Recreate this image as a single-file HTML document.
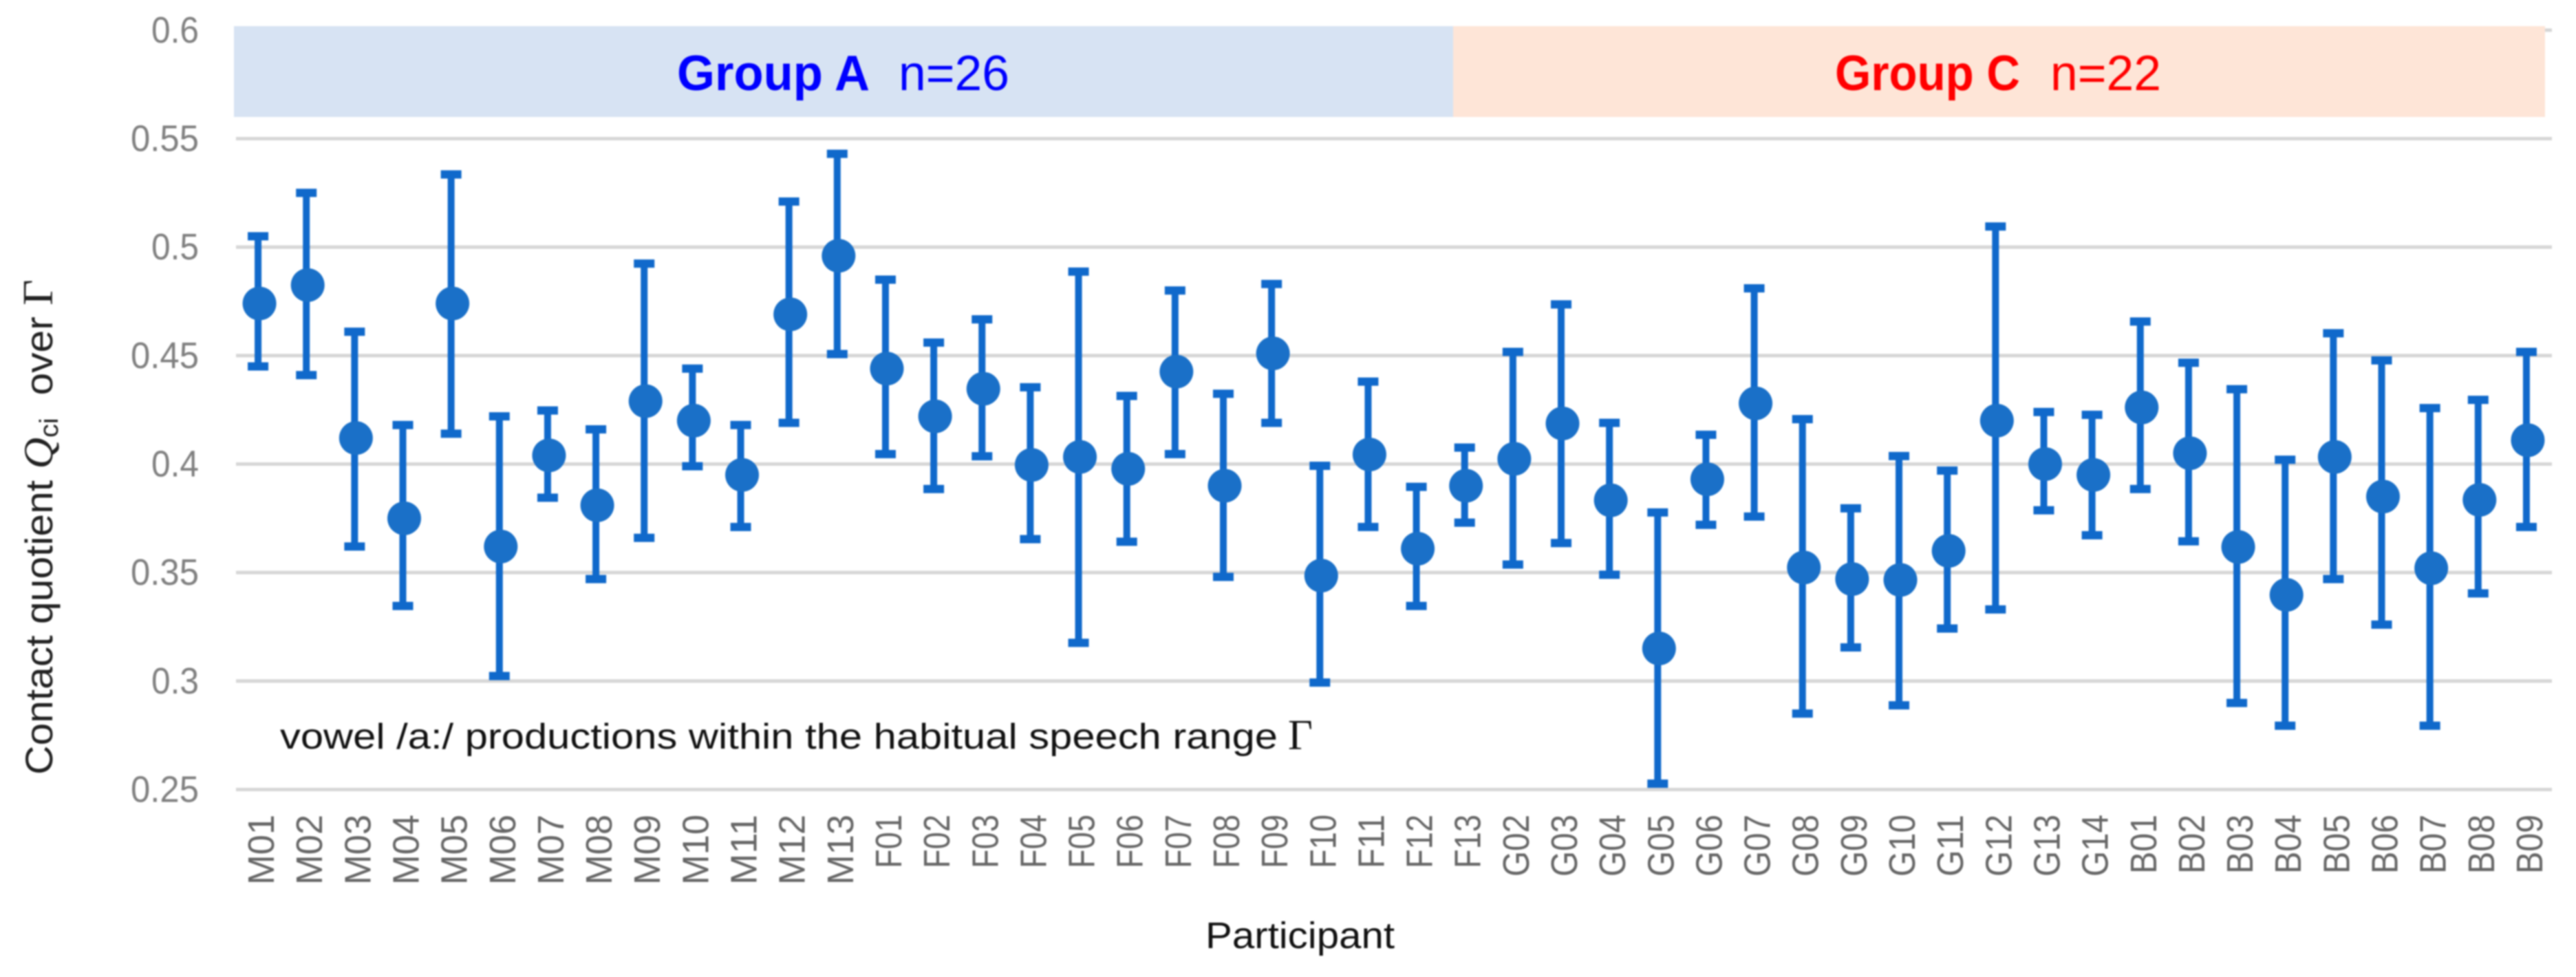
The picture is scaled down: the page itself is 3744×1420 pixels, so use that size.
<!DOCTYPE html>
<html lang="en">
<head>
<meta charset="utf-8">
<title>Contact quotient by participant</title>
<style>
html,body{margin:0;padding:0;background:#fff;}
body{width:3744px;height:1420px;overflow:hidden;}
svg{display:block;filter:blur(1.1px);}
text{font-family:"Liberation Sans",sans-serif;}
</style>
</head>
<body>
<svg id="chart" xmlns="http://www.w3.org/2000/svg" width="3744" height="1420" viewBox="0 0 3744 1420">
  <rect x="0" y="0" width="3744" height="1420" fill="#ffffff"/>
  <g id="grid"></g>
  <rect x="340" y="38" width="1772" height="132" fill="#d7e3f3"/>
  <rect x="2112" y="38" width="1587" height="132" fill="#fee5d7"/>
  <text x="984" y="131" font-size="72" font-weight="700" fill="#0000ff" textLength="280" lengthAdjust="spacingAndGlyphs">Group A</text>
  <text x="1306" y="131" font-size="72" fill="#0000ff" textLength="161" lengthAdjust="spacingAndGlyphs">n=26</text>
  <text x="2667" y="131" font-size="72" font-weight="700" fill="#ff0000" textLength="269" lengthAdjust="spacingAndGlyphs">Group C</text>
  <text x="2980" y="131" font-size="72" fill="#ff0000" textLength="161" lengthAdjust="spacingAndGlyphs">n=22</text>
  <g id="yticks"></g>
  <g id="xticks"></g>
  <g id="series"></g>
  <text x="407" y="1088" font-size="52" fill="#111111" textLength="1450" lengthAdjust="spacingAndGlyphs">vowel /a:/ productions within the habitual speech range</text>
  <text x="1872" y="1089" font-size="62" fill="#111111" style="font-family:'Liberation Serif',serif">&#915;</text>
  <text x="1752" y="1378" font-size="54" fill="#111111" textLength="275" lengthAdjust="spacingAndGlyphs">Participant</text>
  <text transform="translate(76,1126) rotate(-90) scale(1.05,1)" font-size="56" fill="#222222"><tspan>Contact quotient </tspan><tspan font-style="italic" style="font-family:'Liberation Serif',serif" font-size="60">Q</tspan><tspan font-size="38" dy="8">ci</tspan><tspan dy="-8" xml:space="preserve">  over </tspan><tspan style="font-family:'Liberation Serif',serif" font-size="62">&#915;</tspan></text>
</svg>
<script>
const categories = ["M01","M02","M03","M04","M05","M06","M07","M08","M09","M10","M11","M12","M13",
  "F01","F02","F03","F04","F05","F06","F07","F08","F09","F10","F11","F12","F13",
  "G02","G03","G04","G05","G06","G07","G08","G09","G10","G11","G12","G13","G14",
  "B01","B02","B03","B04","B05","B06","B07","B08","B09"];
const meanValues = [.474,.4825,.412,.375,.474,.362,.404,.381,.429,.420,.395,.469,.496,
  .444,.422,.4347,.3996,.4033,.3978,.4426,.390,.451,.3486,.4044,.361,.390,
  .4024,.4187,.3833,.315,.393,.428,.3523,.347,.3466,.360,.420,.400,.395,
  .4261,.405,.3618,.3397,.4033,.385,.352,.3835,.411];
const upperValues = [.505,.525,.461,.418,.5335,.422,.4247,.416,.4924,.444,.418,.521,.543,
  .485,.456,.4667,.4354,.4887,.4314,.480,.4324,.483,.3992,.438,.3895,.4076,
  .4517,.4736,.419,.3777,.4135,.481,.4207,.3796,.4037,.397,.5095,.424,.4227,
  .4657,.4467,.4345,.402,.4603,.4478,.4258,.4296,.4517];
const lowerValues = [.445,.441,.362,.3346,.414,.3023,.3845,.347,.366,.399,.371,.419,.4507,
  .4046,.3885,.4036,.3654,.3176,.3642,.4046,.348,.419,.2993,.371,.3346,.373,
  .3537,.3636,.349,.2527,.372,.3758,.285,.3155,.2888,.3242,.333,.3787,.3672,
  .3885,.3644,.2899,.2794,.347,.326,.2794,.3404,.371];
const yTicks = [0.25,0.3,0.35,0.4,0.45,0.5,0.55,0.6];
const yTickLabels = ["0.25","0.3","0.35","0.4","0.45","0.5","0.55","0.6"];

const NS = "http://www.w3.org/2000/svg";
const plotLeft = 342, plotRight = 3709;
const yBase = 1147.5, yPerUnit = 3153.4, yMin = 0.25;
const labelLengths = {M:102, F:78, G:90, B:86};
function xScale(i){ return plotLeft + (i + 0.5) * (plotRight - plotLeft) / categories.length; }
function yScale(v){ return yBase - (v - yMin) * yPerUnit; }
function make(tag, attrs, parent){
  const el = document.createElementNS(NS, tag);
  for (const k in attrs) el.setAttribute(k, attrs[k]);
  parent.appendChild(el);
  return el;
}
const grid = document.getElementById("grid");
const yticksG = document.getElementById("yticks");
const xticksG = document.getElementById("xticks");
const seriesG = document.getElementById("series");

yTicks.forEach(function(v, i){
  const line = make("rect", {x: plotLeft + 1, y: yScale(v) - 2.5, width: plotRight - plotLeft - 1, height: 5, fill: "#d6d6d6"}, grid);
  
  
  const label = make("text", {
    x: 289, y: yScale(v) + 18, "text-anchor": "end", "font-size": 54, fill: "#808080",
    textLength: yTickLabels[i].length === 4 ? 99 : 69, lengthAdjust: "spacingAndGlyphs"
  }, yticksG);
  
  
  label.textContent = yTickLabels[i];
});

categories.forEach(function(name, i){
  const x = xScale(i);
  const tick = make("text", {
    transform: "translate(" + (x + 21) + ",1184) rotate(-90)",
    "text-anchor": "end", "font-size": 54, fill: "#666666",
    textLength: labelLengths[name[0]], lengthAdjust: "spacingAndGlyphs"
  }, xticksG);
  
  
  tick.textContent = name;

  const g = make("g", {}, seriesG);
  
  
  const barX = x - 2;
  const top = yScale(upperValues[i]), bottom = yScale(lowerValues[i]);
  const stem = make("rect", {x: barX - 5, y: top, width: 10, height: bottom - top, fill: "#1069cb"}, g);
  
  
  const capTop = make("rect", {x: barX - 15, y: top - 6, width: 30, height: 12, fill: "#1069cb"}, g);
  
  
  const capBottom = make("rect", {x: barX - 15, y: bottom - 6, width: 30, height: 12, fill: "#1069cb"}, g);
  
  
  const dot = make("circle", {cx: x, cy: yScale(meanValues[i]), r: 24.5, fill: "#1a70c8"}, g);
  
  
});
</script>
</body>
</html>
